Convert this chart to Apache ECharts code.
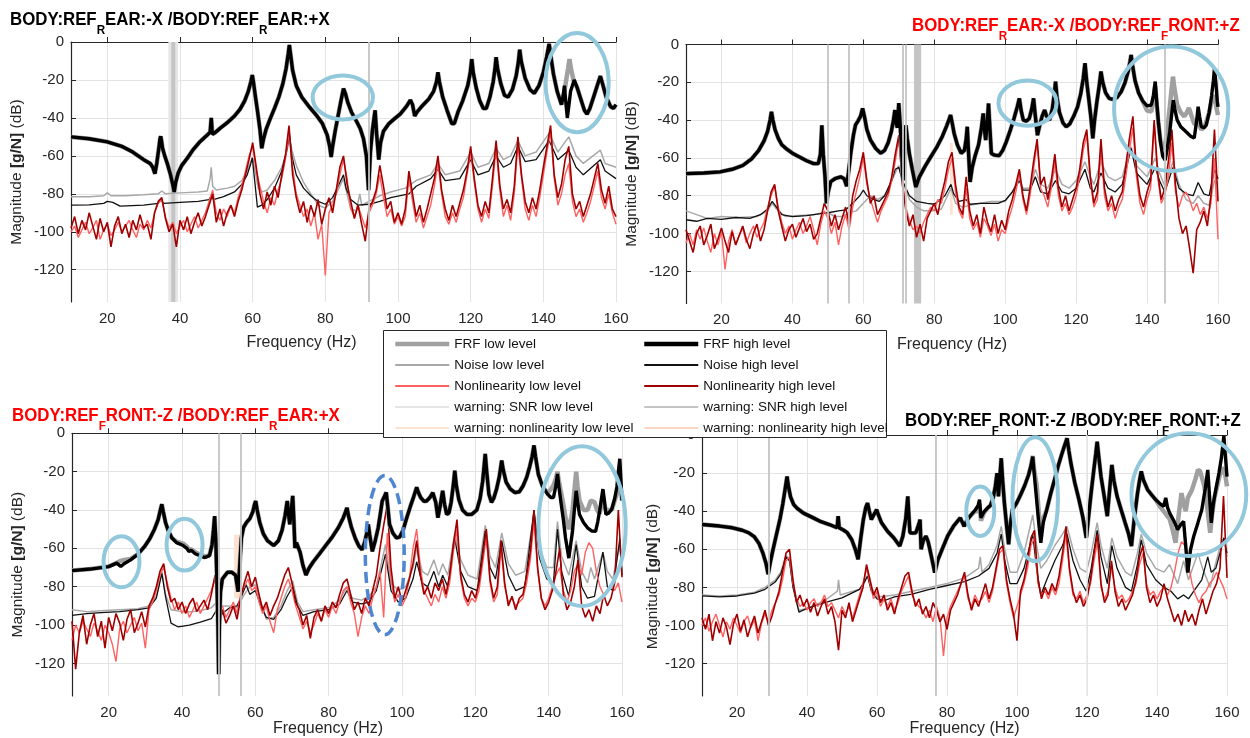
<!DOCTYPE html>
<html>
<head>
<meta charset="utf-8">
<title>FRF linearity check</title>
<script src="https://cdn.jsdelivr.net/npm/echarts@6/dist/echarts.min.js"></script>
<style>
  html, body { margin: 0; padding: 0; background: #ffffff; }
  #chart { width: 1250px; height: 738px; }
</style>
</head>
<body>
<div id="chart"></div>
<script>
// ---------- data ----------
const xTicks = [20, 40, 60, 80, 100, 120, 140, 160];
const yTicks = [-120, -100, -80, -60, -40, -20, 0];

// nonlinearity curves are sampled every 1 Hz from 10 to 160 Hz
const nlFreq = [];
for (let f = 10; f <= 160; f++) nlFreq.push(f);

// panel 1 : BODY:REF_REAR:-X /BODY:REF_REAR:+X
const p1FrfHigh = [[10,-50],[15,-51],[20,-52.6],[24,-55],[27,-58],[30,-62],[31.8,-64],[32.5,-66],[33.1,-69.4],[33.6,-64],[34.1,-57],[34.5,-51],[34.7,-49.7],[34.9,-52],[35.2,-56],[35.8,-60],[36.5,-64],[37.4,-70],[38,-75],[38.4,-79],[38.8,-74],[39.5,-69],[40.5,-65],[41.9,-61.5],[43.5,-57],[45.5,-52.5],[47.5,-49],[48.3,-47.5],[48.6,-40],[48.9,-48.6],[49.5,-48],[51,-45.5],[53,-42.5],[55,-39],[56.5,-35.5],[57.8,-31],[58.8,-26],[59.5,-21],[59.9,-17.4],[60.2,-21],[60.7,-28],[61.3,-36],[62,-46],[62.5,-56],[63,-51],[63.7,-46],[64.7,-41],[66,-35],[67.2,-29],[68.3,-22],[69.2,-14],[69.8,-6],[70.1,-1.6],[70.4,-6],[71,-15],[72,-23],[73.5,-29],[75.5,-34],[77.5,-38.5],[79.2,-43],[80.5,-49],[81.2,-55],[81.6,-60.6],[82,-55],[82.7,-47],[83.5,-39],[84.3,-31],[85,-24.5],[85.5,-27],[86.2,-32],[87.2,-37],[88.5,-41.5],[89.6,-45.6],[90.5,-51],[91.3,-60],[91.9,-78],[92.4,-58],[93,-46],[93.7,-36],[94.1,-48],[94.7,-62],[95.2,-53],[96,-47],[97.5,-43],[99,-40.5],[100.6,-38],[102.3,-34],[103.4,-30.6],[104,-33],[104.6,-39],[105.2,-37],[106.5,-34],[108.5,-30],[109.8,-26],[110.6,-21],[111,-16],[111.4,-21],[112.3,-29],[113.5,-36],[114.8,-43],[115.5,-43],[116.5,-37],[117.8,-31],[119.2,-23],[119.9,-16],[120.3,-9],[120.7,-16],[121.5,-24],[122.5,-31],[123.5,-35],[124.3,-35],[125.3,-29],[126.2,-21],[126.7,-14],[127,-8],[127.4,-14],[128.3,-22],[129.3,-28],[130.3,-29],[131.5,-25],[132.5,-18],[133.1,-11],[133.5,-4],[133.9,-10],[135,-19],[136.3,-25],[137.5,-27],[138.8,-23],[140,-16],[140.9,-8],[141.6,-1],[142.1,-8],[142.8,-17],[143.8,-26],[145,-33],[145.5,-28],[145.8,-23],[146.2,-32],[146.6,-40],[147,-34],[147.5,-26],[148.5,-20],[149.3,-24],[150.3,-30],[151.3,-36],[152,-38],[152.8,-35],[154,-28],[155,-22],[155.7,-18],[156.3,-22],[157.3,-29],[158.5,-34],[159.3,-35],[160,-33]];
const p1FrfLow = [[10,-50],[15,-51],[20,-52.6],[24,-55],[27,-58],[30,-62],[31.8,-64],[32.5,-66],[33.1,-69.4],[33.6,-64],[34.1,-57],[34.5,-51],[34.7,-49.7],[34.9,-52],[35.2,-56],[35.8,-60],[36.5,-64],[37.4,-70],[38,-75],[38.4,-79],[38.8,-74],[39.5,-69],[40.5,-65],[41.9,-61.5],[43.5,-57],[45.5,-52.5],[47.5,-49],[48.3,-47.5],[48.6,-40],[48.9,-48.6],[49.5,-48],[51,-45.5],[53,-42.5],[55,-39],[56.5,-35.5],[57.8,-31],[58.8,-26],[59.5,-21],[59.9,-17.4],[60.2,-21],[60.7,-28],[61.3,-36],[62,-46],[62.5,-56],[63,-51],[63.7,-46],[64.7,-41],[66,-35],[67.2,-29],[68.3,-22],[69.2,-14],[69.8,-6],[70.1,-1.6],[70.4,-6],[71,-15],[72,-23],[73.5,-29],[75.5,-34],[77.5,-38.5],[79.2,-43],[80.5,-49],[81.2,-55],[81.6,-60.6],[82,-55],[82.7,-47],[83.5,-39],[84.3,-31],[85,-24.5],[85.5,-27],[86.2,-32],[87.2,-37],[88.5,-41.5],[89.6,-45.6],[90.5,-51],[91.3,-60],[91.9,-78],[92.4,-58],[93,-46],[93.7,-36],[94.1,-48],[94.7,-62],[95.2,-53],[96,-47],[97.5,-43],[99,-40.5],[100.6,-38],[102.3,-34],[103.4,-30.6],[104,-33],[104.6,-39],[105.2,-37],[106.5,-34],[108.5,-30],[109.8,-26],[110.6,-21],[111,-16],[111.4,-21],[112.3,-29],[113.5,-36],[114.8,-43],[115.5,-43],[116.5,-37],[117.8,-31],[119.2,-23],[119.9,-16],[120.3,-9],[120.7,-16],[121.5,-24],[122.5,-31],[123.5,-35],[124.3,-35],[125.3,-29],[126.2,-21],[126.7,-14],[127,-8],[127.4,-14],[128.3,-22],[129.3,-28],[130.3,-29],[131.5,-25],[132.5,-18],[133.1,-11],[133.5,-4],[133.9,-10],[135,-19],[136.3,-25],[137.5,-27],[138.8,-23],[140,-16],[140.9,-8],[141.6,-1],[142.1,-8],[142.8,-17],[143.8,-26],[145,-33],[145.5,-28],[145.8,-26],[146.3,-20],[146.8,-14],[147.2,-9],[147.6,-14],[148.3,-20],[149.3,-24],[150.3,-30],[151.3,-36],[152,-38],[152.8,-35],[154,-28],[155,-22],[155.7,-18],[156.3,-22],[157.3,-29],[158.5,-34],[159.3,-35],[160,-33]];
const p1NoiseLow = [[10,-81.6],[15,-81.5],[19,-81],[20,-79.5],[21,-81],[25,-81],[30,-80.5],[34,-80],[35,-78.5],[36,-80],[40,-79.5],[45,-79],[47.5,-78.5],[48.3,-72],[48.6,-66],[49,-76],[50,-78],[53,-77],[55,-76],[57,-73],[58.5,-68],[59.5,-63],[60,-61],[60.7,-68],[61.5,-77],[62.7,-79],[64,-78],[66,-73],[68,-66],[69.5,-57],[70.1,-50],[70.8,-57],[72,-65],[74,-74],[76,-80],[78,-86],[80,-87.5],[82,-84],[84,-76],[85,-72],[85.7,-78],[87,-88],[88.5,-89],[89.5,-80],[90,-86],[92,-84],[95,-81],[98,-79],[102,-77],[105,-73],[109,-70],[111,-64],[113,-70],[117,-68],[120,-58],[122,-66],[125,-64],[127,-56],[129,-62],[131,-60],[133,-52],[135,-60],[138,-58],[141.6,-48],[144,-58],[147,-50],[149,-60],[151,-64],[155.7,-57],[157,-64],[160,-66]];
const p1NoiseHigh = [[10,-86],[15,-85.8],[19,-85],[20,-84],[21.5,-84.5],[23.5,-86.5],[30,-86],[34,-85],[34.7,-83],[35.5,-85],[40,-84.5],[45,-84],[48,-83],[48.6,-81],[49.2,-83],[52,-81.5],[55,-79],[57,-75],[58.5,-70],[59.5,-64],[59.9,-61],[60.5,-72],[61.3,-87],[62.5,-86],[64,-83],[66,-77],[68,-68],[69.5,-56],[70.1,-48],[70.8,-60],[72,-70],[74,-77],[76,-81],[78,-84],[80,-85.5],[82,-82],[84,-74],[85,-70],[85.7,-77],[87,-83],[89,-86],[92,-85.5],[95,-84],[98,-82],[103,-80],[105,-76],[109,-72],[111,-67],[113,-73],[117,-72],[120,-62],[122,-70],[125,-68],[127,-60],[129,-66],[131,-64],[133,-55],[135,-63],[138,-62],[141.6,-52],[144,-62],[147,-57],[149,-66],[151,-70],[155.7,-62],[157,-68],[160,-72]];
const p1NlLow = [
  -100,-97,-103,-99,-95,-101,-98,-94,-104,-99,
  -96,-102,-99,-95,-100,-97,-94,-99,-103,-96,
  -99,-94,-98,-90,-85,-83,-92,-98,-95,-101,
  -97,-94,-100,-96,-92,-98,-94,-90,-84,-78,
  -90,-94,-88,-92,-86,-90,-82,-76,-68,-60,
  -55,-68,-76,-84,-90,-82,-86,-78,-72,-62,
  -48,-66,-80,-86,-92,-88,-97,-90,-104,-96,
  -123,-90,-86,-80,-70,-62,-72,-88,-92,-86,
  -92,-98,-90,-86,-80,-70,-82,-92,-88,-96,
  -92,-97,-92,-72,-84,-95,-90,-98,-92,-86,
  -76,-64,-80,-92,-96,-90,-95,-88,-82,-70,
  -58,-74,-88,-95,-88,-93,-76,-56,-78,-92,
  -86,-94,-80,-54,-72,-88,-94,-86,-92,-82,
  -70,-58,-47,-72,-86,-80,-70,-64,-84,-92,
  -88,-95,-90,-84,-76,-68,-82,-88,-80,-90,
  -96];
const p1NlHigh = [
  -98,-92,-101,-94,-99,-90,-97,-104,-93,-100,
  -95,-108,-97,-92,-101,-96,-103,-94,-99,-91,
  -98,-96,-104,-90,-84,-82,-93,-100,-96,-108,
  -94,-99,-92,-101,-95,-90,-97,-92,-86,-80,
  -95,-88,-97,-90,-86,-92,-84,-78,-70,-62,
  -53,-66,-80,-88,-79,-86,-76,-82,-70,-60,
  -44,-70,-82,-90,-84,-95,-86,-92,-83,-96,
  -88,-82,-90,-78,-66,-60,-75,-84,-93,-86,
  -96,-105,-88,-84,-78,-65,-76,-88,-84,-95,
  -90,-96,-88,-68,-80,-92,-86,-95,-88,-80,
  -72,-60,-78,-88,-94,-86,-92,-85,-78,-68,
  -55,-72,-86,-92,-84,-90,-72,-52,-75,-88,
  -83,-90,-76,-50,-70,-84,-90,-82,-88,-78,
  -66,-55,-44,-70,-82,-75,-62,-55,-80,-88,
  -84,-92,-86,-80,-72,-64,-78,-85,-76,-88,
  -92];
const p1SnrLowBands = [[36.8, 39.5]];
const p1SnrHighBands = [[37.6, 38.7]];
const p1SnrHighLines = [92];
const p1Circles = [[84.8, -29.2, 8.3, 11.6], [149.3, -21.4, 8.7, 26.1]];

// panel 2 : BODY:REF_REAR:-X /BODY:REF_FRONT:+Z
const p2FrfHigh = [[10,-68.3],[15,-68],[19.6,-67.4],[23,-66],[26,-64],[28.5,-60.5],[30.5,-56],[32,-51],[33,-46],[33.7,-40],[34.1,-35.6],[34.5,-40],[35.1,-45],[36,-49.5],[37,-53],[38.5,-55.5],[40,-57.5],[42,-59.5],[44,-61.5],[46,-63],[47.3,-63],[47.9,-58],[48.3,-42.7],[48.7,-58],[49.2,-70],[49.6,-84],[50.1,-78],[50.8,-72.5],[52,-71],[53.6,-70],[54.6,-71],[55.3,-75],[55.8,-68],[56.5,-57],[57.2,-48],[57.8,-42.5],[58.5,-40.5],[59.2,-38],[59.8,-33.8],[60.3,-38],[61,-45],[62,-50.5],[63.5,-55],[64.9,-57.5],[66,-56],[67,-52],[67.9,-46],[68.5,-40],[68.9,-34.7],[69.3,-42],[69.6,-44],[70,-31],[70.3,-40],[70.7,-52],[71.2,-71.9],[71.6,-55],[72,-42.7],[72.4,-50],[73,-58],[73.8,-66],[74.8,-75.4],[75.8,-70],[77.4,-64.5],[79,-59.5],[80.8,-54],[82.3,-48.5],[83.5,-43],[84.2,-39.5],[84.6,-37.3],[85,-41],[85.6,-47],[86.5,-53],[87.6,-57.5],[88.5,-56],[89,-50],[89.3,-43.5],[89.6,-55],[90.1,-72.7],[90.7,-65],[91.5,-59],[92.5,-53],[93.3,-44],[93.8,-36.5],[94.2,-46],[94.5,-50.6],[94.9,-42],[95.3,-31.2],[95.7,-45],[96.1,-57.7],[97,-58.5],[98.3,-58.8],[99.3,-56],[100.3,-51.5],[101.5,-45],[102.5,-39],[103.4,-33],[104,-28.5],[104.5,-35],[105.1,-40],[106,-40.5],[106.8,-39.1],[107.5,-34],[108,-28.5],[108.5,-38],[109.1,-48],[109.7,-43],[110.4,-38],[111.1,-34.7],[111.7,-38],[112.5,-40],[113.3,-34],[113.8,-27],[114.2,-19.6],[114.6,-28],[115.3,-36],[116.3,-41.5],[117.2,-43.5],[118.2,-42],[119.3,-38],[120.4,-33],[121.3,-26],[122,-18],[122.5,-9.9],[123,-20],[123.6,-29.4],[124.2,-39],[124.7,-49.7],[125.2,-40],[125.8,-31],[126.5,-22],[127,-14.3],[127.5,-20],[128.3,-25.5],[129.3,-28.5],[130.3,-29],[131.5,-28],[132.7,-25],[133.8,-20],[134.7,-14],[135.2,-9],[135.5,-5.5],[135.9,-11],[136.6,-19],[137.6,-25.5],[138.8,-30],[140,-32.5],[141.2,-32],[141.8,-27],[142.3,-19.6],[142.7,-30],[143.2,-41],[143.8,-52],[144.4,-59],[145.1,-61.2],[145.7,-55],[146.4,-46],[147,-36],[147.4,-29.4],[147.8,-34],[148.5,-40],[149.5,-43.5],[151,-46.2],[152.3,-48.5],[153.3,-49.5],[154,-40],[154.4,-32.9],[154.8,-38],[155.3,-43.5],[156,-44],[156.7,-42.7],[157.5,-36],[158.2,-27],[158.7,-19],[159,-12.6],[159.4,-20],[159.8,-30],[160,-33]];
const p2FrfLow = [[10,-68.3],[15,-68],[19.6,-67.4],[23,-66],[26,-64],[28.5,-60.5],[30.5,-56],[32,-51],[33,-46],[33.7,-40],[34.1,-35.6],[34.5,-40],[35.1,-45],[36,-49.5],[37,-53],[38.5,-55.5],[40,-57.5],[42,-59.5],[44,-61.5],[46,-63],[47.3,-63],[47.9,-58],[48.3,-42.7],[48.7,-58],[49.2,-70],[49.6,-84],[50.1,-78],[50.8,-72.5],[52,-71],[53.6,-70],[54.6,-71],[55.3,-75],[55.8,-68],[56.5,-57],[57.2,-48],[57.8,-42.5],[58.5,-40.5],[59.2,-38],[59.8,-33.8],[60.3,-38],[61,-45],[62,-50.5],[63.5,-55],[64.9,-57.5],[66,-56],[67,-52],[67.9,-46],[68.5,-40],[68.9,-34.7],[69.3,-42],[69.6,-44],[70,-31],[70.3,-40],[70.7,-52],[71.2,-71.9],[71.6,-55],[72,-42.7],[72.4,-50],[73,-58],[73.8,-66],[74.8,-75.4],[75.8,-70],[77.4,-64.5],[79,-59.5],[80.8,-54],[82.3,-48.5],[83.5,-43],[84.2,-39.5],[84.6,-37.3],[85,-41],[85.6,-47],[86.5,-53],[87.6,-57.5],[88.5,-56],[89,-50],[89.3,-43.5],[89.6,-55],[90.1,-72.7],[90.7,-65],[91.5,-59],[92.5,-53],[93.3,-44],[93.8,-36.5],[94.2,-46],[94.5,-50.6],[94.9,-42],[95.3,-31.2],[95.7,-45],[96.1,-57.7],[97,-58.5],[98.3,-58.8],[99.3,-56],[100.3,-51.5],[101.5,-45],[102.5,-39],[103.4,-33],[104,-28.5],[104.5,-35],[105.1,-40],[106,-40.5],[106.8,-39.1],[107.5,-34],[108,-28.5],[108.5,-38],[109.1,-48],[109.7,-43],[110.4,-38],[111.1,-34.7],[111.7,-38],[112.5,-40],[113.3,-34],[113.8,-27],[114.2,-19.6],[114.6,-28],[115.3,-36],[116.3,-41.5],[117.2,-43.5],[118.2,-42],[119.3,-38],[120.4,-33],[121.3,-26],[122,-18],[122.5,-9.9],[123,-20],[123.6,-29.4],[124.2,-39],[124.7,-49.7],[125.2,-40],[125.8,-31],[126.5,-22],[127,-14.3],[127.5,-20],[128.3,-25.5],[129.3,-28.5],[130.3,-29],[131.5,-28],[132.7,-25],[133.8,-20],[134.7,-14],[135.2,-9],[135.5,-5.5],[135.9,-11],[136.6,-19],[137.6,-25.5],[138.8,-30],[140,-35],[141.2,-35.5],[141.8,-29],[142.3,-22],[142.7,-31],[143.2,-42],[143.8,-51],[144.4,-55],[145.1,-53],[145.7,-45],[146.4,-33],[147,-22],[147.3,-17],[147.7,-23],[148.5,-32],[149.5,-36],[150.5,-38],[151.2,-36],[151.8,-33.5],[152.4,-37],[153.3,-42],[154,-42],[154.4,-40],[154.8,-43],[155.3,-45],[156,-44],[156.7,-41],[157.5,-36],[158.2,-30],[158.7,-27],[159.2,-29],[159.6,-34],[160,-37.3]];
const p2NoiseLow = [[10,-88],[13,-90],[16,-92],[20,-91],[25,-91.5],[30,-91],[33,-88],[34.3,-84],[35.5,-87],[38,-91],[42,-90.5],[46,-90],[48.5,-89],[50,-89],[52,-91],[54,-91],[56,-89],[58,-88],[60,-84],[62,-80],[64,-82],[66,-80],[68,-72],[70,-64],[71,-72],[73,-82],[75,-86],[77,-88],[80,-88],[82,-87],[84.7,-76],[86,-84],[88,-86],[90,-85],[93,-84],[96,-83],[100,-83],[102,-78],[104,-70],[105,-76],[107,-76],[108.5,-66],[110,-74],[112,-76],[114.2,-66],[116,-74],[118,-76],[120,-72],[122.5,-62],[124,-70],[125,-74],[127,-62],[129,-70],[131,-72],[133,-70],[135.5,-54],[137,-64],[140,-70],[142.3,-60],[143.5,-68],[145,-75],[147.3,-62],[149,-74],[151,-82],[153,-84],[154.4,-80],[156,-84],[157.5,-85],[159,-72],[160,-74]];
const p2NoiseHigh = [[10,-92.7],[13,-93.5],[16,-92],[20,-92.5],[24,-91.5],[28,-92],[31,-90],[33,-87],[34.3,-83],[35.5,-86],[37,-90],[40,-91],[44,-90.5],[48,-89.5],[50,-89],[53,-88],[55,-87.5],[57,-84],[59,-80],[60,-77],[61,-80],[63,-82],[64.5,-83],[66,-80],[68,-72],[69,-66],[70,-65],[71,-72],[73,-80],[75,-83],[78,-84],[80,-84.5],[83,-80],[84.7,-74],[85.5,-79],[87,-83],[89,-82],[90,-84.5],[93,-84],[96,-84],[98,-84],[100,-82.5],[102,-78],[104,-72],[105,-77],[107,-77],[108.5,-70],[110,-78],[112,-79],[114.2,-72],[116,-78],[118,-79],[120,-76],[122.5,-66],[124,-76],[125,-78],[127,-68],[129,-76],[131,-78],[133,-74],[135.5,-55],[137,-68],[140,-74],[142.3,-65],[143.5,-72],[145,-78],[147.3,-65],[149,-76],[151,-79],[153,-80],[154.4,-73],[156,-79],[157.5,-80],[159,-66],[160,-71]];
const p2NlLow = [
  -105,-100,-106,-98,-103,-97,-104,-110,-100,-106,
  -99,-119,-104,-98,-106,-101,-97,-105,-100,-96,
  -102,-98,-94,-86,-80,-75,-86,-94,-100,-96,
  -103,-98,-94,-100,-96,-91,-98,-106,-95,-88,
  -92,-100,-94,-106,-96,-90,-98,-86,-78,-70,
  -60,-74,-82,-88,-94,-88,-84,-80,-72,-62,
  -50,-72,-86,-93,-98,-96,-100,-94,-90,-86,
  -88,-82,-84,-76,-66,-60,-78,-88,-92,-76,
  -92,-98,-94,-102,-92,-96,-101,-95,-104,-98,
  -100,-92,-86,-78,-68,-82,-90,-80,-66,-52,
  -76,-80,-86,-76,-62,-80,-88,-84,-90,-86,
  -80,-70,-56,-48,-72,-86,-82,-56,-80,-88,
  -84,-92,-86,-82,-70,-56,-44,-70,-84,-90,
  -82,-76,-42,-70,-84,-80,-70,-52,-78,-86,
  -80,-78,-82,-88,-84,-90,-86,-92,-84,-60,
  -103];
const p2NlHigh = [
  -98,-104,-110,-100,-96,-106,-101,-95,-108,-103,
  -97,-104,-110,-99,-106,-101,-96,-103,-108,-100,
  -95,-104,-98,-88,-78,-74,-88,-96,-104,-98,
  -95,-102,-97,-92,-99,-95,-103,-100,-92,-84,
  -88,-96,-90,-98,-92,-86,-95,-80,-72,-66,
  -57,-72,-84,-80,-90,-86,-82,-78,-70,-58,
  -48,-74,-88,-96,-90,-102,-95,-104,-92,-88,
  -84,-90,-80,-72,-62,-57,-74,-86,-90,-70,
  -88,-96,-90,-100,-86,-94,-99,-90,-100,-93,
  -98,-88,-82,-74,-66,-80,-88,-76,-62,-50,
  -74,-70,-82,-72,-58,-76,-86,-80,-88,-82,
  -76,-66,-52,-45,-70,-84,-78,-50,-76,-86,
  -80,-88,-82,-78,-64,-50,-38,-66,-80,-86,
  -78,-72,-40,-68,-82,-76,-62,-45,-74,-92,
  -100,-96,-108,-121,-98,-94,-88,-96,-80,-45,
  -83];
const p2SnrHighLines = [50, 56, 71, 72, 145];
const p2SnrHighBands = [[74.3, 76.3]];
const p2NlLowAreas = [[84.4, -52, 85.2, -90]];
const p2Circles = [[106.3, -31, 8.2, 12], [146.8, -34, 16.1, 32.9]];

// panel 3 : BODY:REF_FRONT:-Z /BODY:REF_REAR:+X
const p3FrfHigh = [[10,-71.6],[15,-70.8],[20,-69.5],[22.2,-67.7],[23.3,-69.5],[24.2,-68],[26,-66],[28,-63],[29.8,-59],[31.2,-55],[32.5,-50],[33.5,-45],[34.1,-40],[34.5,-37],[34.9,-41],[35.5,-46.5],[36.3,-51],[37.2,-54.5],[38.5,-57],[40.3,-58.5],[41.3,-60],[41.9,-61.6],[42.5,-61],[43.6,-62.8],[45,-64],[46.3,-64.8],[47.5,-63.8],[48.2,-58],[48.6,-50],[48.9,-43.2],[49.2,-55],[49.5,-75],[49.8,-100],[50,-125.6],[50.2,-100],[50.5,-82.6],[51,-76],[52.4,-72.5],[53.6,-72.5],[54.6,-74],[55.3,-82.6],[55.7,-70],[56.2,-54.6],[56.8,-49],[57.6,-46.5],[58.5,-44.5],[59.3,-41],[59.8,-37],[60.1,-35.3],[60.5,-40],[61.2,-46.5],[62.2,-52.5],[63.3,-56],[65,-58.5],[66.3,-56],[67.3,-50.5],[68.1,-43],[68.7,-35.3],[69.1,-43],[69.4,-47.5],[69.8,-40],[70.2,-32.6],[70.5,-45],[70.8,-59.8],[71.2,-57],[71.6,-56.3],[72.2,-62],[73,-69],[73.8,-73.9],[74.6,-70.5],[75.8,-67],[77.3,-63.3],[79,-59],[81,-54],[82.7,-49],[84,-44],[84.6,-41],[85,-38.8],[85.4,-43],[86.2,-49],[87.3,-55],[88.3,-59],[89.1,-60.7],[89.8,-57],[90.4,-52],[90.8,-47.5],[91.2,-53],[91.9,-61.6],[92.7,-56],[93.5,-49.3],[94.1,-42],[94.6,-35.3],[95.2,-33],[95.7,-30.9],[96.1,-38],[96.6,-47.5],[97.5,-52],[98.5,-54.6],[99.4,-54],[100.3,-50.5],[101.3,-44],[102.3,-38],[103.2,-33],[103.7,-30],[104,-28.2],[104.5,-31],[105.1,-33.5],[106,-35.5],[106.7,-35.3],[107.6,-33.5],[108.4,-31],[108.7,-30],[109.2,-36],[109.8,-44],[110.4,-38],[110.9,-32],[111.1,-30],[111.6,-37],[112.2,-42.3],[112.8,-41.5],[113.4,-36],[114,-27],[114.4,-19.5],[114.8,-27],[115.5,-34.5],[116.5,-40],[117.7,-42.3],[119,-42.3],[120.4,-40],[121.3,-34],[122,-25],[122.4,-17],[122.7,-10.7],[123.1,-20],[123.7,-31.8],[124.4,-36],[125,-34],[125.8,-29],[126.5,-23],[126.9,-18],[127.2,-14.2],[127.6,-19],[128.4,-25.5],[129.5,-29],[130.8,-30.9],[132,-30.5],[133,-27.5],[134,-23],[134.8,-17.5],[135.5,-12],[136,-6.3],[136.4,-12],[137.2,-21.5],[138.3,-27.5],[139.6,-31.5],[140.6,-33.5],[141.3,-33.5],[141.9,-28],[142.4,-21.2],[142.8,-28],[143.3,-35.3],[144,-45],[144.6,-54.6],[145.5,-65.1],[146,-58],[146.5,-51.1],[147.1,-38],[147.5,-30],[147.9,-36],[148.4,-42.3],[149.5,-46.5],[150.6,-49.3],[151.8,-51],[152.8,-51.1],[153.4,-46],[153.9,-40.5],[154.4,-34],[154.8,-29.1],[155.2,-35],[155.6,-42.3],[156.4,-41.5],[157.2,-39.6],[158,-34],[158.6,-28],[159,-20],[159.4,-13.3],[159.7,-24],[160,-35]];
const p3FrfLow = [[10,-71.6],[15,-70.8],[20,-69.5],[22.2,-67.5],[23.3,-66.5],[24.2,-66],[26,-65.5],[28,-63],[29.8,-59],[31.2,-55],[32.5,-50],[33.5,-45],[34.1,-40],[34.5,-37],[34.9,-41],[35.5,-46.5],[36.3,-51],[37.2,-54.5],[38.5,-56.5],[40.3,-57.5],[41.3,-59],[41.9,-60.5],[42.5,-60.5],[43.6,-62],[45,-63.3],[46.3,-64.2],[47.5,-63.5],[48.2,-58],[48.6,-50],[48.9,-43.2],[49.2,-55],[49.5,-75],[49.8,-100],[50,-125.6],[50.2,-100],[50.5,-82.6],[51,-76],[52.4,-72.5],[53.6,-72.5],[54.6,-74],[55.3,-82.6],[55.7,-70],[56.2,-54.6],[56.8,-49],[57.6,-46.5],[58.5,-44.5],[59.3,-41],[59.8,-37],[60.1,-35.3],[60.5,-40],[61.2,-46.5],[62.2,-52.5],[63.3,-56],[65,-58.5],[66.3,-56],[67.3,-50.5],[68.1,-43],[68.7,-35.3],[69.1,-43],[69.4,-47.5],[69.8,-40],[70.2,-32.6],[70.5,-45],[70.8,-59.8],[71.2,-57],[71.6,-56.3],[72.2,-62],[73,-69],[73.8,-73.9],[74.6,-70.5],[75.8,-67],[77.3,-63.3],[79,-59],[81,-54],[82.7,-49],[84,-44],[84.6,-41],[85,-38.8],[85.4,-43],[86.2,-49],[87.3,-55],[88.3,-59],[89.1,-60.7],[89.8,-57],[90.4,-52],[90.8,-47.5],[91.2,-53],[91.9,-61.6],[92.7,-56],[93.5,-49.3],[94.1,-42],[94.6,-35.3],[95.2,-33],[95.7,-30.9],[96.1,-38],[96.6,-47.5],[97.5,-52],[98.5,-54.6],[99.4,-54],[100.3,-50.5],[101.3,-44],[102.3,-38],[103.2,-33],[103.7,-30],[104,-28.2],[104.5,-31],[105.1,-33.5],[106,-35.5],[106.7,-35.3],[107.6,-33.5],[108.4,-31],[108.7,-30],[109.2,-36],[109.8,-44],[110.4,-38],[110.9,-32],[111.1,-30],[111.6,-37],[112.2,-42.3],[112.8,-41.5],[113.4,-36],[114,-27],[114.4,-19.5],[114.8,-27],[115.5,-34.5],[116.5,-40],[117.7,-42.3],[119,-42.3],[120.4,-40],[121.3,-34],[122,-25],[122.4,-17],[122.7,-10.7],[123.1,-20],[123.7,-31.8],[124.4,-36],[125,-34],[125.8,-29],[126.5,-23],[126.9,-18],[127.2,-14.2],[127.6,-19],[128.4,-25.5],[129.5,-29],[130.8,-30.9],[132,-30.5],[133,-27.5],[134,-23],[134.8,-17.5],[135.5,-12],[136,-6.3],[136.4,-12],[137.2,-21.5],[138.3,-27.5],[139.6,-31],[140.5,-29.5],[141.3,-27],[141.9,-24],[142.4,-20],[142.8,-25],[143.3,-30],[144,-37],[144.6,-44],[145.5,-50],[146,-46],[146.5,-40],[147.1,-28],[147.5,-20],[147.9,-28],[148.4,-35],[149.5,-40],[150.6,-40],[151.5,-35],[152.5,-36],[153.2,-40],[153.9,-42],[154.4,-37],[154.8,-33],[155.2,-37],[155.6,-40],[157.2,-40],[158.2,-34],[158.9,-30],[159.4,-26],[159.7,-30],[160,-35]];
const p3NoiseLow = [[10,-92],[14,-93],[18,-92.5],[23,-92],[28,-91.5],[31,-90],[33,-85],[34.5,-72],[35.5,-84],[37,-92],[40,-93],[43,-93],[46,-92],[48,-91],[49.5,-88],[50,-94],[51,-90],[53,-90],[55,-91],[57,-84],[58.5,-80],[60,-79],[61.5,-88],[63,-97],[65,-96],[67,-90],[68.7,-82],[70.2,-77],[71.5,-88],[73,-93],[76,-92],[80,-91],[83,-87],[85,-80],[86.5,-86],[89,-87],[91,-85],[93,-80],[95.5,-58],[97,-78],[99,-82],[101,-80],[103,-70],[104,-60],[105.5,-72],[107,-74],[108.7,-66],[110,-74],[111.1,-68],[112.5,-74],[114.4,-52],[116,-66],[118,-74],[120.5,-76],[122.7,-48],[124,-64],[125.5,-70],[127.2,-52],[129,-68],[131,-74],[133.5,-72],[136,-42],[137.5,-60],[139.5,-70],[141.3,-70],[142.4,-46],[143.5,-64],[145.5,-74],[147.5,-56],[149,-72],[150.6,-78],[151.5,-70],[152.5,-76],[154.8,-62],[156,-72],[157.5,-76],[159.4,-58],[160,-72]];
const p3NoiseHigh = [[10,-95],[14,-94],[18,-93.5],[23,-93],[28,-92],[31,-91],[33,-86],[34.5,-73],[35.5,-85],[37,-99],[39,-101],[42,-100],[45,-98.5],[48,-96.7],[49.5,-92],[50,-98],[51,-94],[53,-91],[55,-90],[56,-86],[57.5,-79],[58.5,-84],[60,-82],[61.5,-90],[63,-96],[65,-97],[67,-92],[68.7,-85],[70.2,-80],[71.5,-90],[73,-95],[76,-93],[80,-92],[83,-89],[85,-82],[86.5,-88],[89,-89],[91,-88],[93,-82],[95.5,-63],[97,-82],[99,-88],[101,-86],[103,-76],[104,-67],[105.5,-78],[107,-80],[108.7,-72],[110,-80],[111.1,-74],[112.5,-80],[114.4,-55],[116,-72],[118,-80],[120.5,-82],[122.7,-51],[124,-70],[125.5,-76],[127.2,-56],[129,-74],[131,-82],[133.5,-80],[136,-40],[137.5,-65],[139.5,-76],[141.3,-78],[142.4,-50],[143.5,-72],[145.5,-85],[147.5,-58],[149,-80],[150.6,-86],[152.5,-85],[154.8,-62],[156,-80],[157.5,-82],[159.4,-55],[160,-74]];
const p3NlLow = [
  -108,-100,-104,-98,-102,-106,-99,-103,-108,-100,
  -104,-110,-119,-102,-98,-104,-100,-96,-103,-99,
  -112,-92,-88,-82,-74,-70,-78,-86,-92,-88,
  -94,-90,-96,-92,-88,-94,-90,-86,-82,-76,
  -94,-90,-96,-92,-88,-94,-84,-80,-76,-82,
  -80,-88,-94,-90,-98,-104,-92,-86,-80,-76,
  -82,-90,-96,-102,-98,-104,-100,-94,-98,-92,
  -96,-90,-94,-88,-82,-80,-88,-94,-106,-96,
  -90,-94,-86,-80,-72,-96,-52,-76,-88,-84,
  -90,-86,-76,-60,-50,-70,-82,-86,-90,-84,
  -88,-80,-86,-78,-62,-50,-76,-86,-90,-86,
  -88,-82,-68,-54,-78,-88,-84,-60,-80,-88,
  -86,-90,-88,-86,-78,-66,-46,-72,-86,-90,
  -86,-80,-74,-70,-82,-88,-82,-72,-68,-74,
  -62,-57,-60,-72,-80,-84,-82,-80,-82,-78,
  -88];
const p3NlHigh = [
  -98,-123,-104,-95,-110,-100,-94,-106,-98,-112,
  -96,-103,-94,-99,-108,-97,-92,-104,-99,-93,
  -101,-90,-86,-80,-72,-68,-80,-88,-86,-92,
  -88,-94,-89,-86,-93,-90,-87,-92,-84,-74,
  -96,-92,-99,-95,-90,-97,-86,-78,-72,-80,
  -75,-84,-92,-88,-95,-90,-86,-80,-74,-70,
  -78,-88,-92,-100,-95,-107,-96,-92,-98,-90,
  -94,-88,-91,-84,-78,-76,-84,-92,-88,-94,
  -86,-90,-82,-74,-60,-48,-37,-70,-86,-80,
  -88,-82,-76,-68,-56,-74,-84,-80,-86,-78,
  -82,-76,-84,-74,-58,-45,-74,-84,-88,-82,
  -86,-78,-64,-50,-76,-86,-80,-56,-78,-90,
  -85,-92,-86,-84,-74,-62,-40,-70,-86,-92,
  -88,-82,-72,-60,-84,-92,-88,-80,-66,-90,
  -96,-92,-98,-90,-94,-84,-90,-86,-78,-40,
  -75];
const p3SnrHighLines = [50, 56];
const p3NlLowAreas = [[54.2, -53, 56, -86]];
const p3Circles = [[23.5, -67, 4.9, 13.3], [40.7, -58.1, 4.9, 13.5], [149.1, -48.4, 11.9, 41.7]];
const p3DashedCircles = [[95.3, -63.5, 5.3, 41.5]];

// panel 4 : BODY:REF_FRONT:-Z /BODY:REF_FRONT:+Z
const p4FrfHigh = [[10,-47],[15,-47.8],[18.7,-48.7],[21.5,-50],[23.3,-51.3],[25,-53.5],[26.3,-57],[27.4,-62],[28.3,-67.5],[28.9,-73.1],[29.5,-67],[30.3,-60],[31.3,-52],[32.3,-44],[33.1,-36],[33.7,-29],[34.3,-21.8],[34.7,-27],[35.3,-32.5],[36.2,-36.5],[37.2,-38.5],[39,-41],[41.8,-43.5],[44,-45.5],[46.4,-47],[48.6,-48.7],[48.9,-42.6],[49.2,-48.7],[50.5,-50],[51.5,-51.3],[52.8,-55],[53.8,-60],[54.6,-65.3],[55.3,-55],[56.1,-44.4],[56.8,-38],[57.3,-35.7],[57.8,-40],[58.4,-44.4],[59.2,-41.5],[59.9,-39.2],[60.5,-42.5],[61.3,-46.1],[63,-50.5],[64.8,-54],[66.5,-58.3],[67.4,-53],[68.2,-44],[68.8,-32.2],[69.1,-42],[69.4,-51.3],[70.3,-51.5],[71.1,-51.3],[72,-46.5],[72.3,-44.4],[72.6,-60],[73.3,-55],[74,-53.1],[74.6,-56],[75.1,-60],[75.8,-66],[76.5,-72.2],[77.4,-65.5],[78.6,-60],[80.2,-53],[82,-47.5],[83.8,-43.5],[84.9,-47.9],[85.8,-44.5],[86.6,-42.6],[88,-39.5],[88.9,-37],[89.3,-33.9],[89.7,-43.5],[90.5,-40.5],[91.5,-38.5],[92.4,-37],[93.2,-33],[93.8,-27],[94.3,-20],[94.7,-32.2],[95.1,-22],[95.5,-12.2],[95.9,-24],[96.4,-35.7],[97,-47],[97.6,-57.4],[98.1,-47],[98.7,-39.2],[99.9,-35.7],[101,-31.5],[102.2,-26.5],[103.3,-21],[104,-16],[104.5,-11.3],[104.9,-20],[105.6,-33.9],[106.2,-46],[106.8,-56.6],[107.5,-46],[108.5,-39.2],[109.6,-31],[110.8,-23],[111.8,-16],[112.8,-10],[113.6,-5.5],[114.3,-1.7],[114.8,-8],[115.4,-14.8],[116.5,-25],[117.7,-33.9],[118.8,-43],[119.8,-54],[120.5,-42],[121.2,-30],[121.9,-19],[122.5,-10],[122.9,-3.5],[123.4,-12],[124,-21.8],[124.9,-32],[125.8,-42.6],[126.5,-28],[127.1,-15.7],[127.7,-24],[128.6,-32.2],[129.8,-39.5],[130.9,-46.1],[131.9,-52],[132.7,-58.3],[133.5,-44],[134.4,-31],[135,-24],[135.5,-19.1],[136.1,-23.5],[137.3,-28.7],[138.5,-31.5],[139.6,-33.9],[140.8,-36],[141.9,-37.4],[142.5,-33],[143,-38],[143.6,-40.9],[144.8,-45],[145.9,-49.6],[146.8,-47],[147.6,-45.3],[148.2,-58],[148.8,-72.2],[149.6,-60],[150.5,-53.1],[151.7,-46],[152.8,-39.2],[153.8,-28],[154.5,-18.3],[155,-32],[155.5,-46.1],[156.1,-36],[156.8,-28.7],[157.7,-20],[158.4,-12],[159.1,-0.5],[159.5,-10],[160,-21.8]];
const p4FrfLow = [[10,-47],[15,-47.8],[18.7,-48.7],[21.5,-50],[23.3,-51.3],[25,-53.5],[26.3,-57],[27.4,-62],[28.3,-67.5],[28.9,-73.1],[29.5,-67],[30.3,-60],[31.3,-52],[32.3,-44],[33.1,-36],[33.7,-29],[34.3,-21.8],[34.7,-27],[35.3,-32.5],[36.2,-36.5],[37.2,-38.5],[39,-41],[41.8,-43.5],[44,-45.5],[46.4,-47],[48.6,-48.7],[48.9,-42.6],[49.2,-48.7],[50.5,-50],[51.5,-51.3],[52.8,-55],[53.8,-60],[54.6,-65.3],[55.3,-55],[56.1,-44.4],[56.8,-38],[57.3,-35.7],[57.8,-40],[58.4,-44.4],[59.2,-41.5],[59.9,-39.2],[60.5,-42.5],[61.3,-46.1],[63,-50.5],[64.8,-54],[66.5,-58.3],[67.4,-53],[68.2,-44],[68.8,-32.2],[69.1,-42],[69.4,-51.3],[70.3,-51.5],[71.1,-51.3],[72,-46.5],[72.3,-44.4],[72.6,-60],[73.3,-55],[74,-53.1],[74.6,-56],[75.1,-60],[75.8,-66],[76.5,-72.2],[77.4,-65.5],[78.6,-60],[80.2,-53],[82,-47.5],[83.8,-43.5],[84.9,-47.9],[85.8,-44.5],[86.6,-42.6],[88,-40],[88.9,-40],[89.3,-36],[89.7,-45],[90.5,-41],[91.5,-38.5],[92.4,-37],[93.2,-33],[93.8,-27],[94.3,-20],[94.7,-32.2],[95.1,-22],[95.5,-12.2],[95.9,-24],[96.4,-35.7],[97,-47],[97.6,-57.4],[98.1,-47],[98.7,-39.2],[99.9,-35.7],[101,-31.5],[102.2,-26.5],[103.3,-21],[104,-16],[104.5,-11],[104.9,-18],[105.6,-26],[106.2,-40],[106.8,-50],[107.5,-44],[108.5,-39.2],[109.6,-31],[110.8,-23],[111.8,-16],[112.8,-10],[113.6,-5.5],[114.3,-1.7],[114.8,-8],[115.4,-14.8],[116.5,-25],[117.7,-33.9],[118.8,-43],[119.8,-54],[120.5,-42],[121.2,-30],[121.9,-19],[122.5,-10],[122.9,-3.5],[123.4,-12],[124,-21.8],[124.9,-32],[125.8,-42.6],[126.5,-28],[127.1,-15.7],[127.7,-24],[128.6,-32.2],[129.8,-39.5],[130.9,-46.1],[131.9,-52],[132.7,-58.3],[133.5,-44],[134.4,-31],[135,-24],[135.5,-19.1],[136.1,-23.5],[137.3,-28.7],[138.5,-31.5],[139.6,-33.9],[140.8,-37.5],[141.9,-40],[142.7,-42],[143.6,-44],[144.5,-50],[145.3,-56.6],[146.2,-42],[147,-30.5],[147.6,-36],[148.2,-40],[148.8,-33],[150,-28.7],[151,-23],[151.7,-18.3],[152.3,-19],[152.8,-20],[153.4,-26],[154,-32],[154.6,-42],[155.2,-51.3],[155.8,-41],[156.4,-33],[157.3,-26],[158.1,-20],[158.6,-17],[159.1,-16.5],[159.5,-21],[160,-27]];
const p4NoiseLow = [[10,-84],[15,-84.5],[20,-84],[25,-82.5],[28,-80],[31,-76],[32.5,-72],[34,-63],[35,-66],[36,-79],[37.7,-92],[40,-91],[45,-87],[48.7,-82],[49,-76],[49.5,-84],[55,-81],[57.3,-74],[58.4,-80],[60,-85],[65,-84],[70,-82],[75,-80],[80,-78],[85,-75],[89,-70],[89.5,-64],[90,-72],[92,-68],[94.3,-58],[95.5,-48],[96.5,-60],[98,-72],[100,-72],[102,-62],[104.5,-42],[105.6,-58],[106.8,-70],[108.5,-66],[110.8,-58],[113,-52],[114.3,-48],[116,-60],[118,-70],[119.8,-72],[121.2,-62],[122.9,-46],[124,-58],[125.8,-70],[127.1,-54],[128.6,-64],[131,-72],[132.7,-74],[134.4,-62],[135.5,-52],[137,-62],[139.6,-70],[142,-72],[143.6,-68],[145.9,-78],[147.6,-66],[149,-76],[151.7,-62],[153,-70],[155.2,-80],[156.4,-70],[158.1,-58],[159.1,-54],[160,-64]];
const p4NoiseHigh = [[10,-84.4],[15,-85],[20,-84.5],[25,-83],[28,-81],[31,-77],[32.5,-73],[34,-64],[35,-66],[36,-80],[37.7,-93],[40,-91],[45,-88],[50,-85.5],[55,-81],[56.5,-77],[57.3,-74],[58.4,-82],[60,-86],[62,-87],[65,-85],[70,-83.5],[75,-81],[80,-79],[85,-77],[89,-74],[92,-70],[94.3,-62],[95.5,-52],[96.5,-66],[98,-78],[100,-78],[102,-70],[104.5,-52],[105.6,-70],[106.8,-84],[108.5,-76],[110.8,-66],[113,-58],[114.3,-52],[116,-66],[118,-76],[119.8,-82],[121.2,-70],[122.9,-50],[124,-64],[125.8,-78],[127.1,-58],[128.6,-70],[131,-80],[132.7,-82],[134.4,-68],[135.5,-55],[137,-68],[139.6,-76],[142,-80],[144,-82],[145.9,-86],[147.6,-84],[149,-86],[150.5,-82],[152.8,-76],[154.5,-64],[155.5,-72],[156.8,-70],[158.6,-58],[159.1,-54],[160,-62]];
const p4NlLow = [
  -100,-96,-103,-98,-94,-100,-106,-98,-102,-96,
  -100,-104,-98,-95,-101,-97,-108,-99,-94,-98,
  -92,-88,-84,-76,-66,-64,-78,-86,-90,-88,
  -92,-88,-86,-90,-88,-84,-90,-88,-92,-96,
  -90,-94,-90,-96,-90,-84,-78,-70,-78,-86,
  -82,-90,-86,-90,-86,-92,-88,-82,-78,-74,
  -84,-88,-90,-92,-96,-92,-98,-90,-96,-116,
  -96,-90,-86,-82,-78,-74,-86,-90,-84,-88,
  -86,-82,-88,-82,-72,-62,-60,-78,-88,-96,
  -90,-84,-78,-70,-58,-54,-78,-84,-82,-86,
  -80,-84,-78,-66,-52,-72,-84,-86,-82,-88,
  -84,-78,-66,-56,-80,-86,-82,-70,-80,-86,
  -84,-88,-86,-82,-78,-68,-62,-78,-84,-82,
  -86,-82,-80,-84,-80,-72,-62,-56,-58,-68,
  -78,-84,-88,-84,-82,-78,-76,-72,-76,-80,
  -86];
const p4NlHigh = [
  -96,-102,-94,-108,-98,-104,-96,-101,-110,-99,
  -94,-103,-97,-106,-100,-95,-104,-98,-92,-100,
  -95,-88,-82,-72,-62,-60,-76,-88,-84,-90,
  -86,-93,-88,-95,-90,-86,-94,-90,-98,-113,
  -92,-96,-88,-98,-92,-86,-80,-68,-76,-84,
  -80,-88,-84,-92,-88,-94,-86,-80,-74,-72,
  -82,-90,-86,-94,-90,-96,-88,-92,-98,-94,
  -102,-92,-88,-84,-78,-72,-84,-92,-86,-90,
  -84,-78,-86,-80,-70,-60,-58,-76,-86,-94,
  -108,-82,-76,-66,-54,-50,-76,-86,-80,-84,
  -78,-82,-74,-62,-48,-70,-82,-88,-84,-90,
  -86,-76,-62,-52,-78,-88,-84,-66,-82,-90,
  -86,-92,-88,-84,-76,-64,-58,-80,-88,-84,
  -90,-86,-78,-86,-92,-98,-94,-100,-92,-98,
  -94,-100,-92,-86,-94,-88,-82,-78,-70,-32,
  -75];
const p4SnrHighLines = [29, 76.8];
const p4SnrLowLines = [120];
const p4Circles = [[89.5, -40, 4, 13], [105.2, -33.7, 6.5, 32.5], [149.1, -31.3, 16.4, 32.2]];

// ---------- styling ----------
const FONT = "'Liberation Sans', Arial, sans-serif";
const C = {
  frfLow: '#a0a0a0', frfHigh: '#000000',
  noiseLow: '#a8a8a8', noiseHigh: '#111111',
  nlLow: '#ff6161', nlHigh: '#a00000',
  snrLow: '#e6e6e6', snrHigh: '#c4c4c4',
  nlWarnLow: '#fde2d2', nlWarnHigh: '#fbd6c2',
  circle: '#92c8dc', dashed: '#4f86d2'
};
const NAMES = {
  frfLow: 'FRF low level', frfHigh: 'FRF high level',
  noiseLow: 'Noise low level', noiseHigh: 'Noise high level',
  nlLow: 'Nonlinearity low level', nlHigh: 'Nonlinearity high level',
  snrLow: 'warning: SNR low level', snrHigh: 'warning: SNR high level',
  nlWarnLow: 'warning: nonlinearity low level', nlWarnHigh: 'warning: nonlinearity high level'
};

const panels = [
  { grid: { left: 71, top: 42, width: 545, height: 260 }, xNameGap: 33, xNameShift: 84, yNameGap: 46, yNameShift: 0,
    frfLow: p1FrfLow, frfHigh: p1FrfHigh, noiseLow: p1NoiseLow, noiseHigh: p1NoiseHigh, nlLow: p1NlLow, nlHigh: p1NlHigh,
    warn: { snrLowBands: p1SnrLowBands, snrHighBands: p1SnrHighBands, snrHighLines: p1SnrHighLines },
    circles: p1Circles, dashed: [] },
  { grid: { left: 686, top: 44.5, width: 532, height: 259 }, xNameGap: 33, xNameShift: 0, yNameGap: 46, yNameShift: 0,
    frfLow: p2FrfLow, frfHigh: p2FrfHigh, noiseLow: p2NoiseLow, noiseHigh: p2NoiseHigh, nlLow: p2NlLow, nlHigh: p2NlHigh,
    warn: { snrHighLines: p2SnrHighLines, snrHighBands: p2SnrHighBands, nlLowAreas: p2NlLowAreas },
    circles: p2Circles, dashed: [] },
  { grid: { left: 72, top: 433.3, width: 550, height: 262.7 }, xNameGap: 23, xNameShift: 38, yNameGap: 46, yNameShift: 0,
    frfLow: p3FrfLow, frfHigh: p3FrfHigh, noiseLow: p3NoiseLow, noiseHigh: p3NoiseHigh, nlLow: p3NlLow, nlHigh: p3NlHigh,
    warn: { snrHighLines: p3SnrHighLines, nlLowAreas: p3NlLowAreas },
    circles: p3Circles, dashed: p3DashedCircles },
  { grid: { left: 702, top: 435, width: 525, height: 261 }, xNameGap: 23, xNameShift: 0, yNameGap: 40, yNameShift: 22,
    frfLow: p4FrfLow, frfHigh: p4FrfHigh, noiseLow: p4NoiseLow, noiseHigh: p4NoiseHigh, nlLow: p4NlLow, nlHigh: p4NlHigh,
    warn: { snrHighLines: p4SnrHighLines, snrLowLines: p4SnrLowLines },
    circles: p4Circles, dashed: [] }
];

function onGrid(vals) {
  return nlFreq.map(function (f, i) { return [f, vals[i]]; });
}

function lineSeries(idx, key, data, width) {
  return {
    name: NAMES[key], type: 'line', xAxisIndex: idx, yAxisIndex: idx,
    data: data, symbol: 'none', showSymbol: false, silent: true, animation: false,
    color: C[key], itemStyle: { color: C[key] }, lineStyle: { color: C[key], width: width }
  };
}

function warnSeries(idx, key, bands, lines, areas, lineWidth) {
  const areaData = [];
  (bands || []).forEach(function (b) { areaData.push([{ xAxis: b[0] }, { xAxis: b[1] }]); });
  (areas || []).forEach(function (a) { areaData.push([{ coord: [a[0], a[1]] }, { coord: [a[2], a[3]] }]); });
  return {
    name: NAMES[key], type: 'line', xAxisIndex: idx, yAxisIndex: idx, data: [],
    symbol: 'none', showSymbol: false, silent: true, animation: false, z: 1,
    color: C[key], itemStyle: { color: C[key] }, lineStyle: { color: C[key], width: 2 },
    markArea: areaData.length ? { silent: true, itemStyle: { color: C[key] }, data: areaData } : undefined,
    markLine: (lines && lines.length) ? {
      silent: true, symbol: ['none', 'none'], label: { show: false },
      lineStyle: { color: C[key], width: lineWidth || 1.8, type: 'solid' },
      data: lines.map(function (v) { return { xAxis: v }; })
    } : undefined
  };
}

function ellipseRenderer(color, dashed) {
  return function (params, api) {
    const c = api.coord([api.value(0), api.value(1)]);
    const s = api.size([api.value(2), api.value(3)]);
    const rx = s[0], ry = s[1];
    const d = 'M' + (c[0] - rx) + ',' + c[1] +
      ' A' + rx + ',' + ry + ' 0 1 0 ' + (c[0] + rx) + ',' + c[1] +
      ' A' + rx + ',' + ry + ' 0 1 0 ' + (c[0] - rx) + ',' + c[1] + ' Z';
    return {
      type: 'path',
      shape: { pathData: d },
      style: { fill: 'none', stroke: color, lineWidth: dashed ? 3.5 : 4, lineDash: dashed ? [11, 6] : null }
    };
  };
}

const grids = [], xAxes = [], yAxes = [], series = [];
panels.forEach(function (p, i) {
  grids.push(Object.assign({ containLabel: false, outerBoundsMode: 'none' }, p.grid));
  xAxes.push({
    type: 'value', gridIndex: i, min: 10, max: 160, splitNumber: 7,
    name: 'Frequency (Hz)', nameLocation: 'middle', nameGap: p.xNameGap,
    nameTextStyle: { fontFamily: FONT, fontSize: 16, color: '#262626', padding: [0, p.xNameShift, 0, 0] },
    axisLine: { show: true, lineStyle: { color: '#262626', width: 1.2 } },
    axisTick: { show: true, inside: true, length: 5, customValues: xTicks, lineStyle: { color: '#262626' } },
    axisLabel: { customValues: xTicks, fontFamily: FONT, fontSize: 15, color: '#262626', margin: 9 },
    splitLine: { show: true, lineStyle: { color: '#e3e3e3', width: 1 } }
  });
  yAxes.push({
    type: 'value', gridIndex: i, min: -137, max: 0, splitNumber: 7,
    name: 'Magnitude {b|[g/N]} (dB)', nameLocation: 'middle', nameGap: p.yNameGap, nameRotate: 90,
    nameTextStyle: { fontFamily: FONT, fontSize: 15.5, color: '#262626', padding: [0, p.yNameShift, 0, 0],
      rich: { b: { fontFamily: FONT, fontSize: 15.5, fontWeight: 'bold', color: '#262626' } } },
    axisLine: { show: true, onZero: false, lineStyle: { color: '#262626', width: 1.2 } },
    axisTick: { show: true, inside: true, length: 5, customValues: yTicks, lineStyle: { color: '#262626' } },
    axisLabel: { customValues: yTicks, fontFamily: FONT, fontSize: 15, color: '#262626', margin: 7 },
    splitLine: { show: true, lineStyle: { color: '#e3e3e3', width: 1 } }
  });

  const w = p.warn;
  series.push(warnSeries(i, 'snrLow', w.snrLowBands, w.snrLowLines, null, 1.5));
  series.push(warnSeries(i, 'snrHigh', w.snrHighBands, w.snrHighLines, null, 1.8));
  series.push(warnSeries(i, 'nlWarnLow', null, null, w.nlLowAreas));
  series.push(warnSeries(i, 'nlWarnHigh', null, null, null));
  series.push(lineSeries(i, 'noiseLow', p.noiseLow, 1.5));
  series.push(lineSeries(i, 'noiseHigh', p.noiseHigh, 1.3));
  series.push(lineSeries(i, 'nlLow', onGrid(p.nlLow), 1.4));
  series.push(lineSeries(i, 'nlHigh', onGrid(p.nlHigh), 1.6));
  series.push(lineSeries(i, 'frfLow', p.frfLow, 4.5));
  series.push(lineSeries(i, 'frfHigh', p.frfHigh, 3.4));
  series.push({
    type: 'custom', xAxisIndex: i, yAxisIndex: i, data: p.circles, clip: false, silent: true,
    animation: false, z: 10, renderItem: ellipseRenderer(C.circle, false)
  });
  if (p.dashed.length) {
    series.push({
      type: 'custom', xAxisIndex: i, yAxisIndex: i, data: p.dashed, clip: false, silent: true,
      animation: false, z: 10, renderItem: ellipseRenderer(C.dashed, true)
    });
  }
});

function legendItem(key, width) {
  return { name: NAMES[key], lineStyle: { color: C[key], width: width }, itemStyle: { opacity: 0 } };
}
const legendCommon = {
  orient: 'vertical', itemWidth: 54, itemHeight: 12, itemGap: 7, selectedMode: false, z: 60,
  itemStyle: { opacity: 0, borderWidth: 0 },
  textStyle: { fontFamily: FONT, fontSize: 13.5, color: '#111111' }
};

function titleText(parts, color, x, y) {
  const t = parts.map(function (s, k) { return k % 2 === 0 ? '{m|' + s + '}' : '{s|' + s + '}'; }).join('');
  return {
    type: 'text', x: x, y: y, scaleX: 0.935, z: 70, silent: true,
    style: {
      text: t, fill: color, align: 'left', verticalAlign: 'top',
      rich: {
        m: { fontFamily: FONT, fontSize: 18, fontWeight: 'bold', fill: color, lineHeight: 20, verticalAlign: 'top' },
        s: { fontFamily: FONT, fontSize: 12.5, fontWeight: 'bold', fill: color, lineHeight: 14, padding: [13, 0, 0, 0], verticalAlign: 'top' }
      }
    }
  };
}

const option = {
  backgroundColor: '#ffffff',
  animation: false,
  grid: grids,
  xAxis: xAxes,
  yAxis: yAxes,
  series: series,
  legend: [
    Object.assign({ left: 388, top: 332, data: [legendItem('frfLow', 4.5), legendItem('noiseLow', 1.8), legendItem('nlLow', 1.8), legendItem('snrLow', 2), legendItem('nlWarnLow', 2)] }, legendCommon),
    Object.assign({ left: 637, top: 332, data: [legendItem('frfHigh', 4.5), legendItem('noiseHigh', 1.8), legendItem('nlHigh', 1.8), legendItem('snrHigh', 2), legendItem('nlWarnHigh', 2)] }, legendCommon)
  ],
  graphic: [
    { type: 'rect', z: 50, silent: true, shape: { x: 383.5, y: 330.5, width: 503, height: 107 },
      style: { fill: '#ffffff', stroke: '#262626', lineWidth: 1 } },
    titleText(['BODY:REF', 'R', 'EAR:-X /BODY:REF', 'R', 'EAR:+X'], '#000000', 10, 11),
    titleText(['BODY:REF', 'R', 'EAR:-X /BODY:REF', 'F', 'RONT:+Z'], '#ff0000', 912, 17),
    titleText(['BODY:REF', 'F', 'RONT:-Z /BODY:REF', 'R', 'EAR:+X'], '#ff0000', 12, 407),
    titleText(['BODY:REF', 'F', 'RONT:-Z /BODY:REF', 'F', 'RONT:+Z'], '#000000', 905, 412)
  ]
};

const chart = echarts.init(document.getElementById('chart'), null, { renderer: 'canvas' });
chart.setOption(option);
</script>
</body>
</html>
